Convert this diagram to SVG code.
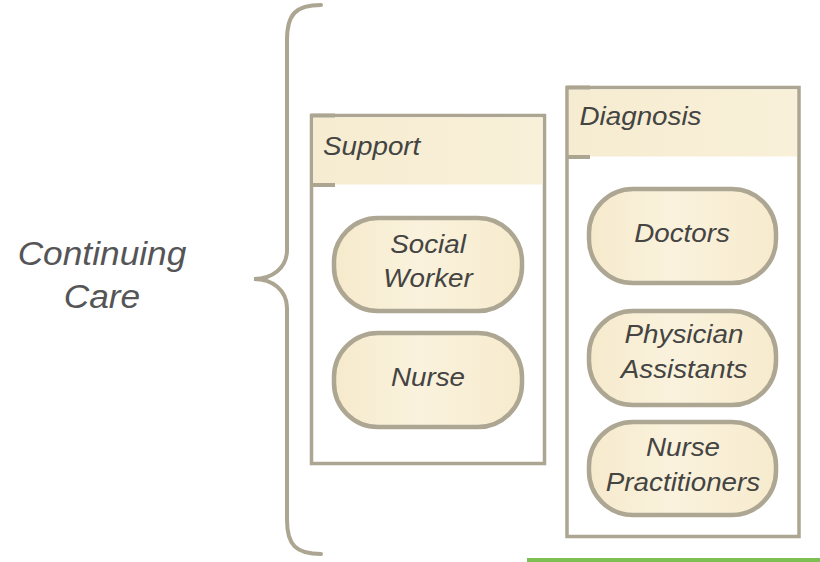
<svg xmlns="http://www.w3.org/2000/svg" width="820" height="562" viewBox="0 0 820 562">
<defs>
<linearGradient id="hdr" x1="0" y1="0" x2="1" y2="0">
<stop offset="0" stop-color="#f6ecd1"/>
<stop offset="1" stop-color="#f9f0d9"/>
</linearGradient>
<linearGradient id="nd" x1="0" y1="0" x2="1" y2="0">
<stop offset="0" stop-color="#f6eacc"/>
<stop offset="0.45" stop-color="#faf2dd"/>
<stop offset="1" stop-color="#f7ebcd"/>
</linearGradient>
</defs>
<style>
.box{fill:#ffffff;stroke:#aca591;stroke-width:3.5}
.hdr{fill:url(#hdr)}
.tab{stroke:#aca591;stroke-width:4;fill:none}
.node{fill:url(#nd);stroke:#ada692;stroke-width:4.5}
.t{font-family:"Liberation Sans",Arial,sans-serif;font-style:italic;font-size:25.5px;fill:#444442}
.c{text-anchor:middle}
.big{font-family:"Liberation Sans",Arial,sans-serif;font-style:italic;font-size:33px;fill:#555557;text-anchor:middle}
.brace{fill:none;stroke:#aca591;stroke-width:4;stroke-linecap:round}
</style>
<rect width="820" height="562" fill="#ffffff"/>

<g id="label-continuing-care">
<text class="big" transform="translate(102 265) scale(1.07 1)">Continuing</text>
<text class="big" transform="translate(102 308) scale(1.07 1)">Care</text>
</g>

<g id="connectors">
<path class="brace" d="M321 5 C296 5 287 14 287 40 L287 250 C287 268 272 279 254 279 C272 279 287 290 287 308 L287 520 C287 545 296 554 321 554"/>
</g>

<g id="support">
<rect class="box" x="311.5" y="115.5" width="233" height="348"/>
<rect class="hdr" x="313.5" y="117.5" width="229" height="67"/>
<path class="tab" d="M311 115.5 H335 M311 185 H335"/>
<text class="t" transform="translate(323 155) scale(1.09 1)">Support</text>
</g>

<g id="diagnosis">
<rect class="box" x="567" y="87.5" width="232" height="449"/>
<rect class="hdr" x="569" y="89.5" width="228" height="67"/>
<path class="tab" d="M566.5 87.5 H590 M566.5 157 H590"/>
<text class="t" transform="translate(579.5 125) scale(1.09 1)">Diagnosis</text>
</g>

<g id="social-worker">
<rect class="node" x="334" y="218" width="188" height="93" rx="44" ry="44"/>
<text class="t c" transform="translate(428 253) scale(1.09 1)">Social</text>
<text class="t c" transform="translate(428 287) scale(1.09 1)">Worker</text>
</g>

<g id="nurse">
<rect class="node" x="334" y="333" width="188" height="94" rx="44" ry="44"/>
<text class="t c" transform="translate(428 386) scale(1.09 1)">Nurse</text>
</g>

<g id="doctors">
<rect class="node" x="589" y="189" width="187" height="94" rx="44" ry="44"/>
<text class="t c" transform="translate(682 242) scale(1.09 1)">Doctors</text>
</g>

<g id="physician-assistants">
<rect class="node" x="589" y="311" width="187" height="94" rx="44" ry="44"/>
<text class="t c" transform="translate(684 343) scale(1.09 1)">Physician</text>
<text class="t c" transform="translate(684 378) scale(1.09 1)">Assistants</text>
</g>

<g id="nurse-practitioners">
<rect class="node" x="589" y="422" width="187" height="93" rx="44" ry="44"/>
<text class="t c" transform="translate(683 456) scale(1.09 1)">Nurse</text>
<text class="t c" transform="translate(683 491) scale(1.09 1)">Practitioners</text>
</g>

<rect x="527" y="558" width="293" height="4" fill="#7dbf52"/>
</svg>
